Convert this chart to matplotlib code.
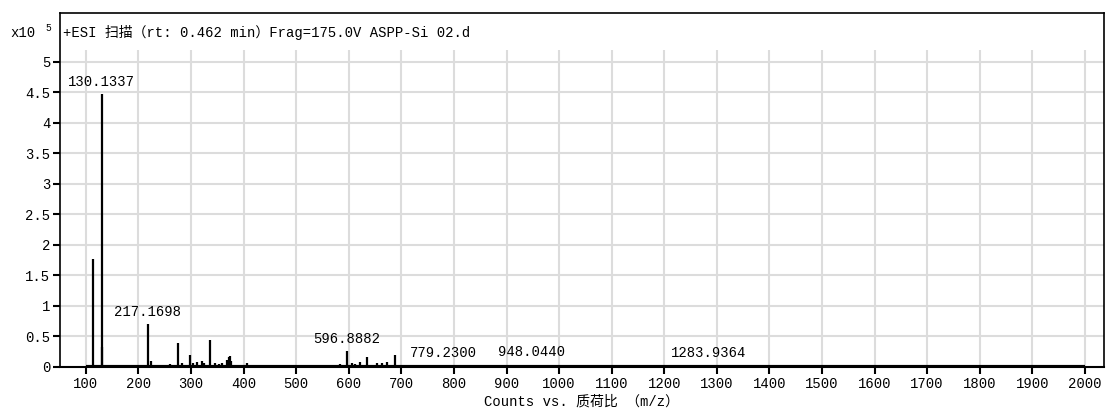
import matplotlib
matplotlib.use("Agg")
from matplotlib import pyplot as plt

plt.rcParams['font.family'] = ['Liberation Mono', 'Noto Sans CJK SC']

# 质谱峰 (m/z, 强度 x10^5)
mz = [113.1, 130.1337, 131.1, 217.1698, 223.2, 240.7, 259.8, 274.2, 282.0, 297.8,
      304.0, 311.7, 320.0, 325.0, 336.0, 345.3, 353.6, 359.0, 368.0, 372.0,
      374.0, 376.0, 405.6, 431.0, 450.0, 481.7, 557.8, 583.0, 596.8882, 606.0,
      612.0, 621.5, 634.0, 653.0, 662.5, 672.0, 687.7, 720.0, 779.23, 850.0,
      880.0, 895.0, 915.0, 930.0, 948.044, 965.0, 985.0, 1010.0, 1030.0, 1050.0,
      1230.0, 1260.0, 1283.9364, 1300.0, 1330.0, 1350.0, 1390.0]
inten = [1.77, 4.47, 0.32, 0.70, 0.10, 0.04, 0.05, 0.40, 0.07, 0.20,
         0.06, 0.08, 0.10, 0.07, 0.44, 0.07, 0.05, 0.06, 0.12, 0.16,
         0.18, 0.10, 0.07, 0.03, 0.04, 0.02, 0.02, 0.05, 0.26, 0.06,
         0.05, 0.08, 0.16, 0.06, 0.07, 0.08, 0.19, 0.02, 0.03, 0.03,
         0.02, 0.04, 0.03, 0.03, 0.04, 0.03, 0.03, 0.02, 0.02, 0.015,
         0.015, 0.015, 0.02, 0.015, 0.012, 0.015, 0.01]

labels = {130.1337: "130.1337", 217.1698: "217.1698", 596.8882: "596.8882",
          779.23: "779.2300", 948.044: "948.0440", 1283.9364: "1283.9364"}

scan_range = [100, 2000]
xticks = list(range(100, 2001, 100))
yticks = [0, 0.5, 1, 1.5, 2, 2.5, 3, 3.5, 4, 4.5, 5]
ytick_labels = ["0", "0.5", "1", "1.5", "2", "2.5", "3", "3.5", "4", "4.5", "5"]

fig = plt.figure(figsize=(11.06, 4.17), dpi=100)
ax = fig.add_axes([0.0542, 0.12, 0.9438, 0.849])

ax.set_xlim(50.6, 2036)
ax.set_ylim(0, 5.8)

# 网格
ax.vlines(xticks, 0, 5.2, color='#dcdcdc', lw=1.5, zorder=0)
for y in yticks[1:]:
    ax.axhline(y, color='#dcdcdc', lw=1.5, zorder=0)

# 谱图
ax.vlines(mz, 0, inten, color='black', lw=1.6, zorder=3)
ax.plot(scan_range, [0, 0], color='black', lw=3, solid_capstyle='butt', zorder=3)

for m, t in labels.items():
    h = inten[mz.index(m)]
    ax.annotate(t, (m, h), xytext=(0, 4), textcoords='offset points',
                ha='center', va='bottom', fontsize=10, zorder=4)

ax.set_xticks(xticks)
ax.set_yticks(yticks)
ax.set_yticklabels(ytick_labels)
ax.tick_params(axis='both', direction='out', length=5, width=1.5, labelsize=10, pad=2)

for s in ax.spines.values():
    s.set_linewidth(1.2)
ax.spines['bottom'].set_linewidth(1.5)

ax.text(0.003, 0.945, "+ESI 扫描（rt: 0.462 min）Frag=175.0V ASPP-Si 02.d",
        transform=ax.transAxes, fontsize=10, va='center', ha='left')
ax.set_xlabel("Counts vs. 质荷比 （m/z）", fontsize=10, labelpad=3)

fig.text(0.009, 0.922, "x10", fontsize=10, va='center', ha='left')
fig.text(0.041, 0.932, "5", fontsize=7, va='center', ha='left')

fig.savefig("out.png", dpi=100)
